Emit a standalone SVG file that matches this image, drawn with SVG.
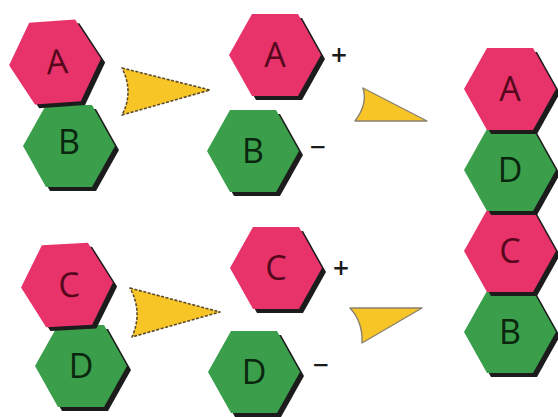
<svg xmlns="http://www.w3.org/2000/svg" xmlns:xlink="http://www.w3.org/1999/xlink" width="558" height="417" viewBox="0 0 558 417">
<style>
  .shadow { fill: #1c1c1c; }
  .pink { fill: #E8326A; }
  .green { fill: #3A9E4A; }
  .lbl { font-family: "Open Sans", "Noto Sans", sans-serif; font-size: 34px; font-weight: 500; text-anchor: middle; }
  .lp { fill: #55081c; }
  .lg { fill: #0a260f; }
  .sign { font-family: "Open Sans", "Noto Sans", sans-serif; font-size: 28px; font-weight: 600; fill: #1a1a1a; text-anchor: middle; }
  .arr1 { fill: #F8C526; stroke: #5b4b2e; stroke-width: 1.6; stroke-dasharray: 3 1.6; stroke-linejoin: round; }
  .arr2 { fill: #F8C526; stroke: #8a8070; stroke-width: 1.4; stroke-linejoin: round; }
</style>
<defs>
  <path id="hex" d="M-46,0 L-23,-41 L23,-41 L46,0 L23,41 L-23,41 Z"/>
</defs>
<rect width="558" height="417" fill="#ffffff"/>

<g id="connectors">
  <path class="arr1" d="M122,68 L210,90 L122,115 Q134,92 122,68 Z"/>
  <path class="arr1" d="M130,288 L220,312 L132,337 Q143,312 130,288 Z"/>
  <path class="arr2" d="M363,88 L427,121 L355,121 Q368,104 363,88 Z"/>
  <path class="arr2" d="M350,308 L422,308 L362,343 Q363,322 350,308 Z"/>
</g>

<g id="node-B1" transform="translate(69,146)">
  <use xlink:href="#hex" class="shadow" x="4" y="4"/>
  <use xlink:href="#hex" class="green"/>
  <text class="lbl lg" x="0" y="8">B</text>
</g>
<g id="node-A1" transform="translate(55,62) rotate(-4)">
  <use xlink:href="#hex" class="shadow" x="4" y="4"/>
  <use xlink:href="#hex" class="pink"/>
  <text class="lbl lp" x="2" y="12">A</text>
</g>

<g id="node-D1" transform="translate(81,366)">
  <use xlink:href="#hex" class="shadow" x="4" y="4"/>
  <use xlink:href="#hex" class="green"/>
  <text class="lbl lg" x="0" y="12">D</text>
</g>
<g id="node-C1" transform="translate(67,285) rotate(-3)">
  <use xlink:href="#hex" class="shadow" x="4" y="4"/>
  <use xlink:href="#hex" class="pink"/>
  <text class="lbl lp" x="2" y="12">C</text>
</g>

<g id="node-A2" transform="translate(275,55)">
  <use xlink:href="#hex" class="shadow" x="4" y="4"/>
  <use xlink:href="#hex" class="pink"/>
  <text class="lbl lp" x="0" y="12">A</text>
</g>
<g id="node-B2" transform="translate(253,151)">
  <use xlink:href="#hex" class="shadow" x="4" y="4"/>
  <use xlink:href="#hex" class="green"/>
  <text class="lbl lg" x="0" y="12">B</text>
</g>
<g id="node-C2" transform="translate(276,268)">
  <use xlink:href="#hex" class="shadow" x="4" y="4"/>
  <use xlink:href="#hex" class="pink"/>
  <text class="lbl lp" x="0" y="12">C</text>
</g>
<g id="node-D2" transform="translate(254,372)">
  <use xlink:href="#hex" class="shadow" x="4" y="4"/>
  <use xlink:href="#hex" class="green"/>
  <text class="lbl lg" x="0" y="12">D</text>
</g>

<g id="signs">
  <text class="sign" x="339" y="65">+</text>
  <text class="sign" x="318" y="157">−</text>
  <text class="sign" x="341" y="278">+</text>
  <text class="sign" x="321" y="375">−</text>
</g>

<g id="node-B3" transform="translate(510,332)">
  <use xlink:href="#hex" class="shadow" x="4" y="4"/>
  <use xlink:href="#hex" class="green"/>
  <text class="lbl lg" x="0" y="12">B</text>
</g>
<g id="node-C3" transform="translate(510,251)">
  <use xlink:href="#hex" class="shadow" x="4" y="4"/>
  <use xlink:href="#hex" class="pink"/>
  <text class="lbl lp" x="0" y="12">C</text>
</g>
<g id="node-D3" transform="translate(510,170)">
  <use xlink:href="#hex" class="shadow" x="4" y="4"/>
  <use xlink:href="#hex" class="green"/>
  <text class="lbl lg" x="0" y="12">D</text>
</g>
<g id="node-A3" transform="translate(510,89)">
  <use xlink:href="#hex" class="shadow" x="4" y="4"/>
  <use xlink:href="#hex" class="pink"/>
  <text class="lbl lp" x="0" y="12">A</text>
</g>
</svg>
